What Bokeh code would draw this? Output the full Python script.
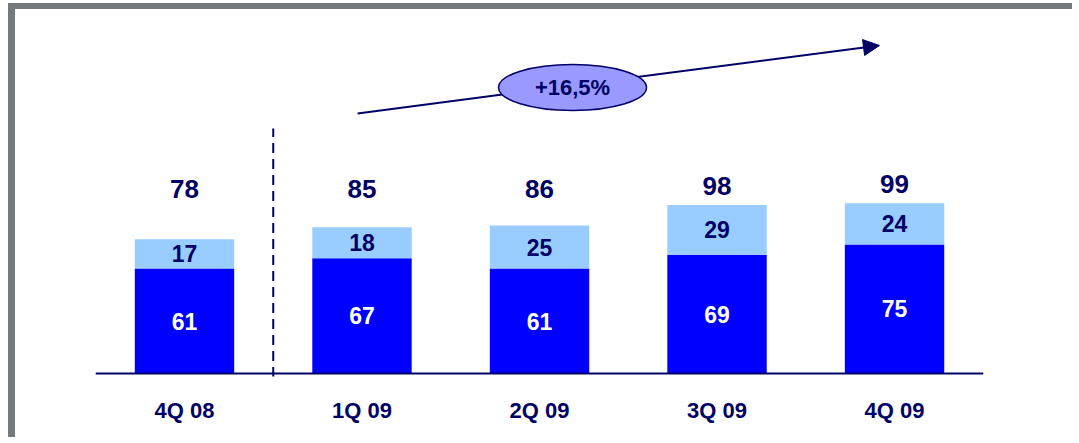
from bokeh.plotting import figure
from bokeh.models import Range1d, FixedTicker, Arrow, NormalHead, ColumnDataSource
from bokeh.core.properties import value
from bokeh.embed import file_html
from bokeh.resources import INLINE

# ---- data ----
quarters = ["4Q 08", "1Q 09", "2Q 09", "3Q 09", "4Q 09"]
base_vals = [61, 67, 61, 69, 75]
top_vals = [17, 18, 25, 29, 24]
totals = [78, 85, 86, 98, 99]
growth_label = "+16,5%"

NAVY = "#000066"
BLUE = "#0000FF"
LIGHT = "#99CCFF"
GREY = "#767a7d"
FONT = "Liberation Sans"

W, H = 1064, 434
p = figure(width=W, height=H, output_backend="svg", toolbar_location=None,
           x_range=Range1d(-0.952, 5.042), y_range=Range1d(-1.74, 211.6),
           min_border_left=0, min_border_right=0, min_border_top=0, min_border_bottom=67)
p.styles = {"border-left": f"7px solid {GREY}", "border-top": f"6px solid {GREY}",
            "margin-left": "8px", "margin-top": "3px"}
p.background_fill_color = "white"
p.border_fill_color = "white"
p.outline_line_color = None
p.grid.visible = False
p.yaxis.visible = False

xs = list(range(len(quarters)))
src = ColumnDataSource(dict(
    x=xs, base=base_vals, top=top_vals, total=totals,
    base_mid=[b / 2 for b in base_vals],
    top_mid=[b + t / 2 for b, t in zip(base_vals, top_vals)],
    stack_top=[b + t for b, t in zip(base_vals, top_vals)],
    total_y=[max(107.5, t + 11) for t in totals],
    base_txt=[str(v) for v in base_vals],
    top_txt=[str(v) for v in top_vals],
    total_txt=[str(v) for v in totals],
))

# annotations: arrow (under glyphs) + ellipse
p.add_layout(Arrow(end=NormalHead(size=16, fill_color=NAVY, line_color=NAVY, line_width=1),
                   x_start=0.975, y_start=151.2, x_end=3.915, y_end=190.7,
                   line_color=NAVY, line_width=2, level="underlay"))
p.ellipse(x=[2.186], y=[166.3], width=148, height=46, width_units="screen", height_units="screen",
          fill_color="#9999FF", line_color=NAVY, line_width=1.5)
p.text(x=[2.186], y=[166.3], text=[growth_label], text_align="center", text_baseline="middle",
       text_font=value(FONT), text_font_style="bold", text_font_size="22px", text_color=NAVY)

# bars
p.vbar(x="x", bottom=0, top="base", width=0.56, source=src, fill_color=BLUE, line_color=None)
p.vbar(x="x", bottom="base", top="stack_top", width=0.56, source=src, fill_color=LIGHT, line_color=None)

# baseline and divider
p.segment(x0=[-0.5], y0=[0], x1=[4.5], y1=[0], line_color=NAVY, line_width=2)
p.segment(x0=[0.5], y0=[-2], x1=[0.5], y1=[142.4], line_color=NAVY, line_width=2, line_dash="10 6")

# labels
p.text(x="x", y="base_mid", text="base_txt", source=src, text_align="center", text_baseline="middle",
       text_font=value(FONT), text_font_style="bold", text_font_size="23px", text_color="white")
p.text(x="x", y="top_mid", text="top_txt", source=src, text_align="center", text_baseline="middle",
       text_font=value(FONT), text_font_style="bold", text_font_size="23px", text_color=NAVY)
p.text(x="x", y="total_y", text="total_txt", source=src, text_align="center", text_baseline="middle",
       text_font=value(FONT), text_font_style="bold", text_font_size="26px", text_color=NAVY)

# x axis
ax = p.xaxis[0]
ax.ticker = FixedTicker(ticks=xs)
ax.major_label_overrides = {i: q for i, q in enumerate(quarters)}
ax.axis_line_color = None
ax.major_tick_line_color = None
ax.minor_tick_line_color = None
ax.major_tick_in = 0
ax.major_tick_out = 0
ax.major_label_standoff = 21
ax.major_label_text_font = FONT
ax.major_label_text_font_style = "bold"
ax.major_label_text_font_size = "22px"
ax.major_label_text_color = NAVY

open("out.html", "w").write(file_html(p, INLINE))
